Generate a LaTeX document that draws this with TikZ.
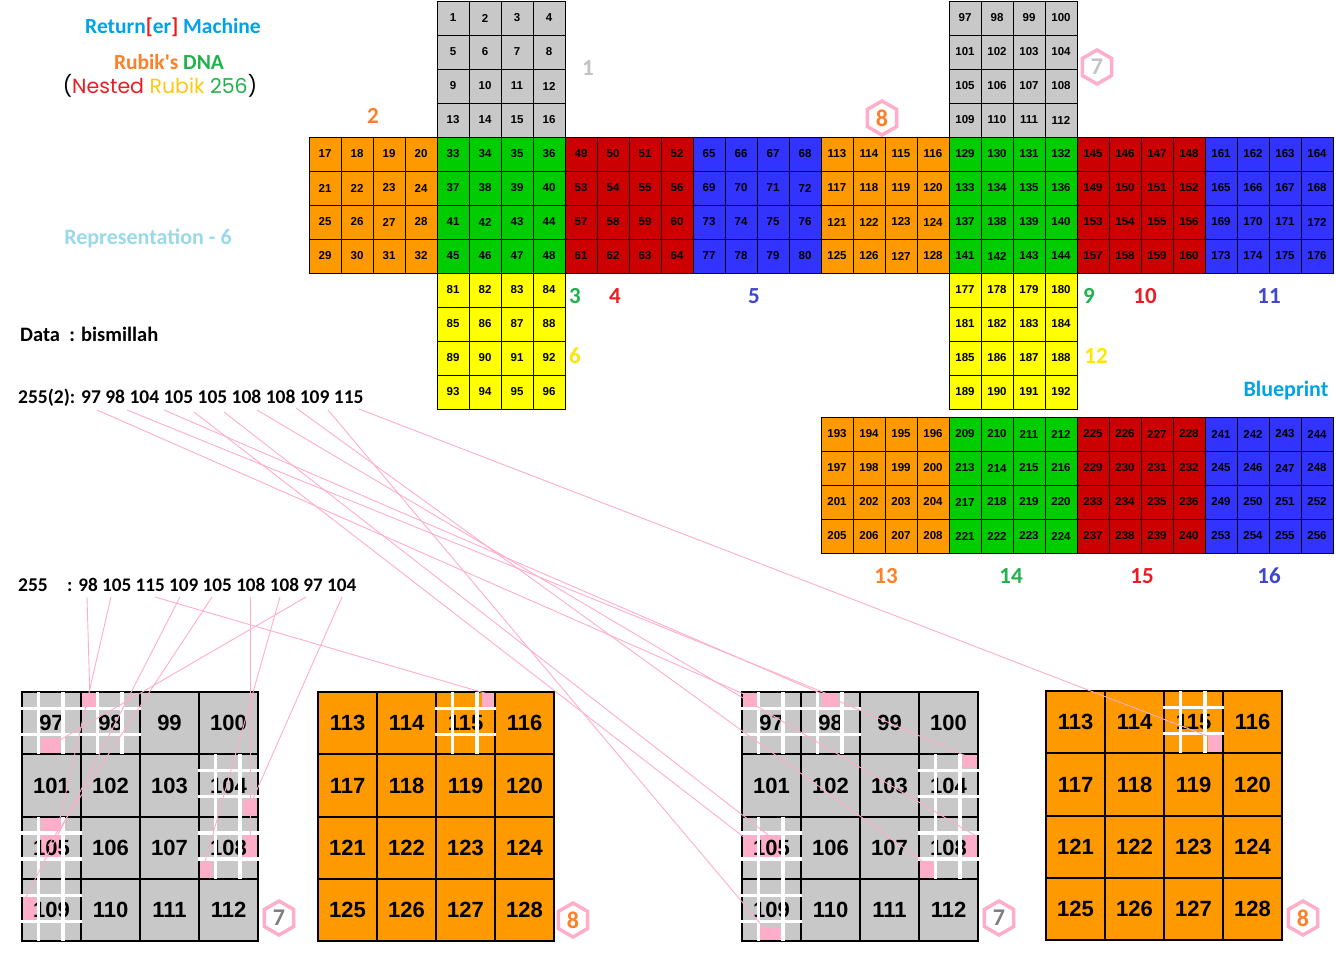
\documentclass[tikz,border=0pt]{standalone}
\usepackage{fontspec}
\setmainfont{Carlito}
\newfontfamily\cellfont{Liberation Sans}
\newfontfamily\comicfont{Poppins}
\usetikzlibrary{shapes.geometric}
\definecolor{cgray}{HTML}{C8C8C8}
\definecolor{corange}{HTML}{FF9900}
\definecolor{cgreen}{HTML}{00CC00}
\definecolor{cred}{HTML}{CC0000}
\definecolor{cblue}{HTML}{3333FF}
\definecolor{cyellow}{HTML}{FFFF00}
\definecolor{lpink}{HTML}{FFAEC9}
\definecolor{tgray}{HTML}{C3C3C3}
\definecolor{dgray}{HTML}{7F7F7F}
\definecolor{torange}{HTML}{FF7F27}
\definecolor{tgreen}{HTML}{22B14C}
\definecolor{tred}{HTML}{ED1C24}
\definecolor{tblue}{HTML}{3F48CC}
\definecolor{tyellow}{HTML}{FFE600}
\definecolor{sky}{HTML}{00A2E8}
\definecolor{lsky}{HTML}{99D9EA}
\definecolor{gold}{HTML}{FFC90E}
\tikzset{
  tcell/.style={draw=black, line width=1pt, minimum width=32pt, minimum height=34pt, inner sep=0pt,
    font=\cellfont\bfseries\fontsize{11.5}{12}\selectfont},
  bcell/.style={draw=black, line width=2pt, minimum width=59pt, minimum height=62.3pt, inner sep=0pt,
    font=\cellfont\bfseries\fontsize{22}{24}\selectfont},
  facelbl/.style={font=\bfseries\fontsize{23}{25}\selectfont, inner sep=0pt},
  hexmark/.style={regular polygon, regular polygon sides=6, shape border rotate=30, draw=lpink,
    line width=3.5pt, minimum size=34pt, inner sep=0pt, font=\bfseries\fontsize{24}{26}\selectfont},
  link/.style={draw=lpink, line width=0.9pt},
  hashline/.style={draw=white, line width=3.3pt},
  pinkbox/.style={fill=lpink},
  bigtext/.style={font=\bfseries\fontsize{19.5}{22}\selectfont, inner sep=0pt},
  headtext/.style={font=\bfseries\fontsize{21.5}{24}\selectfont, inner sep=0pt},
}
\newcommand\drawface[5]{%
  \foreach \r in {0,...,3}{%
    \foreach \c in {0,...,3}{%
      \pgfmathtruncatemacro\num{#4+4*\r+\c}%
      \node[tcell, fill=#3] (#5\num) at ({#1+16+32*\c},{#2+17+34*\r}) {\num};
    }%
  }%
}
\newcommand\gridfill[3]{\fill[#3] (#1,#2) rectangle ({#1+236},{#2+249.2});}
\newcommand\gridcells[4]{%
  \foreach \r in {0,...,3}{%
    \foreach \c in {0,...,3}{%
      \pgfmathtruncatemacro\num{#3+4*\r+\c}%
      \node[bcell] (#4\num) at ({#1+29.5+59*\c},{#2+31.15+62.3*\r}) {\num};
    }%
  }%
}
\newcommand\hashat[2]{%
  \draw[hashline] ({#1+16.3},#2) -- ({#1+16.3},{#2+62.3});
  \draw[hashline] ({#1+41},#2) -- ({#1+41},{#2+62.3});
  \draw[hashline] ({#1-1},{#2+16.5}) -- ({#1+60},{#2+16.5});
  \draw[hashline] ({#1-1},{#2+42.5}) -- ({#1+60},{#2+42.5});
}
\begin{document}
\begin{tikzpicture}[x=1pt,y=-1pt]
\useasboundingbox (0,0) rectangle (1336,956);
\fill[white] (0,0) rectangle (1336,956);

% ---- titles ----
\node[headtext, text=sky] (title) at (173,27) {Return\textcolor{tred}{[}er\textcolor{tred}{]} Machine};
\node[headtext] (dna) at (169,62) {\textcolor{torange}{Rubik\textquotesingle s} \textcolor{tgreen}{DNA}};
\node[font=\comicfont\fontsize{20.5}{24}\selectfont, inner sep=0pt] (nested) at (160,86)
  {(\textcolor{tred}{Nested} \textcolor{gold}{Rubik} \textcolor{tgreen}{256})};
\node[font=\bfseries\fontsize{22}{24}\selectfont, text=lsky, inner sep=0pt] (repr) at (148,238) {Representation - 6};
\node[font=\bfseries\fontsize{22}{24}\selectfont, text=sky, inner sep=0pt] (blueprint) at (1286,391) {Blueprint};
\node[font=\bfseries\fontsize{20.5}{22}\selectfont, inner sep=0pt, anchor=base west] (data) at (20,341) {Data\ \ : bismillah};
\node[bigtext, anchor=base west] (seqa) at (18,403) {255(2): 97 98 104 105 105 108 108 109 115};
\node[bigtext, anchor=base west] (seqb) at (18,591) {255};
\node[font=\bfseries\fontsize{19.2}{22}\selectfont, inner sep=0pt, anchor=base west] (seqc) at (67,591) {: 98 105 115 109 105 108 108 97 104};

% ---- top net ----
\drawface{437}{1}{cgray}{1}{t}
\drawface{309}{137}{corange}{17}{t}
\drawface{437}{137}{cgreen}{33}{t}
\drawface{565}{137}{cred}{49}{t}
\drawface{693}{137}{cblue}{65}{t}
\drawface{437}{273}{cyellow}{81}{t}
\drawface{949}{1}{cgray}{97}{t}
\drawface{821}{137}{corange}{113}{t}
\drawface{949}{137}{cgreen}{129}{t}
\drawface{1077}{137}{cred}{145}{t}
\drawface{1205}{137}{cblue}{161}{t}
\drawface{949}{273}{cyellow}{177}{t}
\drawface{821}{417}{corange}{193}{t}
\drawface{949}{417}{cgreen}{209}{t}
\drawface{1077}{417}{cred}{225}{t}
\drawface{1205}{417}{cblue}{241}{t}

% ---- face labels ----
\node[facelbl, text=tgray] (l1) at (588,68) {1};
\node[facelbl, text=torange] (l2) at (373,116) {2};
\node[facelbl, text=tgreen] (l3) at (575,296) {3};
\node[facelbl, text=tred] (l4) at (615,296) {4};
\node[facelbl, text=tblue] (l5) at (754,296) {5};
\node[facelbl, text=tyellow] (l6) at (575,356) {6};
\node[facelbl, text=tgreen] (l9) at (1089,296) {9};
\node[facelbl, text=tred] (l10) at (1145,296) {10};
\node[facelbl, text=tblue] (l11) at (1269,296) {11};
\node[facelbl, text=tyellow] (l12) at (1096,356) {12};
\node[facelbl, text=torange] (l13) at (886,576) {13};
\node[facelbl, text=tgreen] (l14) at (1011,576) {14};
\node[facelbl, text=tred] (l15) at (1142,576) {15};
\node[facelbl, text=tblue] (l16) at (1269,576) {16};
\node[hexmark, text=tgray] (h7top) at (1097,67) {7};
\node[hexmark, text=torange] (h8top) at (882,118) {8};

% ---- bottom grids: fills ----
\gridfill{22}{692}{cgray}
\gridfill{318}{692}{corange}
\gridfill{742}{692}{cgray}
\gridfill{1046}{691}{corange}

% ---- pink marks ----
\fill[pinkbox] (82,693) rectangle (97,707);
\fill[pinkbox] (41,738) rectangle (60,753);
\fill[pinkbox] (243,799) rectangle (257,815);
\fill[pinkbox] (41,818) rectangle (62,857);
\fill[pinkbox] (243,835) rectangle (257,857);
\fill[pinkbox] (200,862) rectangle (212,878);
\fill[pinkbox] (23,896) rectangle (36,920);
\fill[pinkbox] (482,693) rectangle (494,708);
\fill[pinkbox] (743,693) rectangle (757,707);
\fill[pinkbox] (822,693) rectangle (838,707);
\fill[pinkbox] (963,755) rectangle (977,767);
\fill[pinkbox] (743,835) rectangle (782,857);
\fill[pinkbox] (965,835) rectangle (977,857);
\fill[pinkbox] (920,860) rectangle (934,878);
\fill[pinkbox] (760,927) rectangle (782,940);
\fill[pinkbox] (1208,735) rectangle (1222,752);

% ---- bottom grids: cells ----
\gridcells{22}{692}{97}{a}
\gridcells{318}{692}{113}{b}
\gridcells{742}{692}{97}{c}
\gridcells{1046}{691}{113}{d}

% ---- hashes ----
\hashat{22}{692}
\hashat{81}{692}
\hashat{199}{754.3}
\hashat{22}{816.6}
\hashat{199}{816.6}
\hashat{22}{878.9}
\hashat{436}{692}
\hashat{742}{692}
\hashat{801}{692}
\hashat{919}{754.3}
\hashat{742}{816.6}
\hashat{919}{816.6}
\hashat{742}{878.9}
\hashat{1164}{691}

% ---- hexagon tags ----
\node[hexmark, text=dgray] (h7a) at (279,918) {7};
\node[hexmark, text=torange] (h8b) at (573,920) {8};
\node[hexmark, text=dgray] (h7c) at (999,918) {7};
\node[hexmark, text=torange] (h8d) at (1303,918) {8};

% ---- connector end points ----
\coordinate (ta97) at (97,410);   \coordinate (tz97) at (746,695);
\coordinate (ta98) at (127,410);  \coordinate (tz98) at (830,695);
\coordinate (ta104) at (164,410); \coordinate (tz104) at (966,756);
\coordinate (ta105) at (194,412); \coordinate (tz105) at (745,838);
\coordinate (tb105) at (224,412); \coordinate (ty105) at (772,838);
\coordinate (ta108) at (257,410); \coordinate (tz108) at (976,836);
\coordinate (tb108) at (296,408); \coordinate (ty108) at (922,861);
\coordinate (ta109) at (328,410); \coordinate (tz109) at (764,928);
\coordinate (ta115) at (359,409); \coordinate (tz115) at (1210,737);

\coordinate (ba98) at (87,597);   \coordinate (bz98) at (90,700);
\coordinate (ba105) at (111,597); \coordinate (bz105) at (60,818);
\coordinate (ba115) at (155,597); \coordinate (bz115) at (488,694);
\coordinate (ba109) at (180,597); \coordinate (bz109) at (26,897);
\coordinate (bb105) at (212,597); \coordinate (by105) at (48,846);
\coordinate (ba108) at (250,597); \coordinate (bz108) at (250,836);
\coordinate (bb108) at (280,597); \coordinate (by108) at (205,862);
\coordinate (ba97) at (306,597);  \coordinate (bz97) at (58,741);
\coordinate (ba104) at (342,597); \coordinate (bz104) at (252,801);

% ---- connectors ----
\draw[link] (ta97) -- (tz97);
\draw[link] (ta98) -- (tz98);
\draw[link] (ta104) -- (tz104);
\draw[link] (ta105) -- (tz105);
\draw[link] (tb105) -- (ty105);
\draw[link] (ta108) -- (tz108);
\draw[link] (tb108) -- (ty108);
\draw[link] (ta109) -- (tz109);
\draw[link] (ta115) -- (tz115);
\draw[link] (ba98) -- (bz98);
\draw[link] (ba105) -- (bz105);
\draw[link] (ba115) -- (bz115);
\draw[link] (ba109) -- (bz109);
\draw[link] (bb105) -- (by105);
\draw[link] (ba108) -- (bz108);
\draw[link] (bb108) -- (by108);
\draw[link] (ba97) -- (bz97);
\draw[link] (ba104) -- (bz104);
\end{tikzpicture}
\end{document}
